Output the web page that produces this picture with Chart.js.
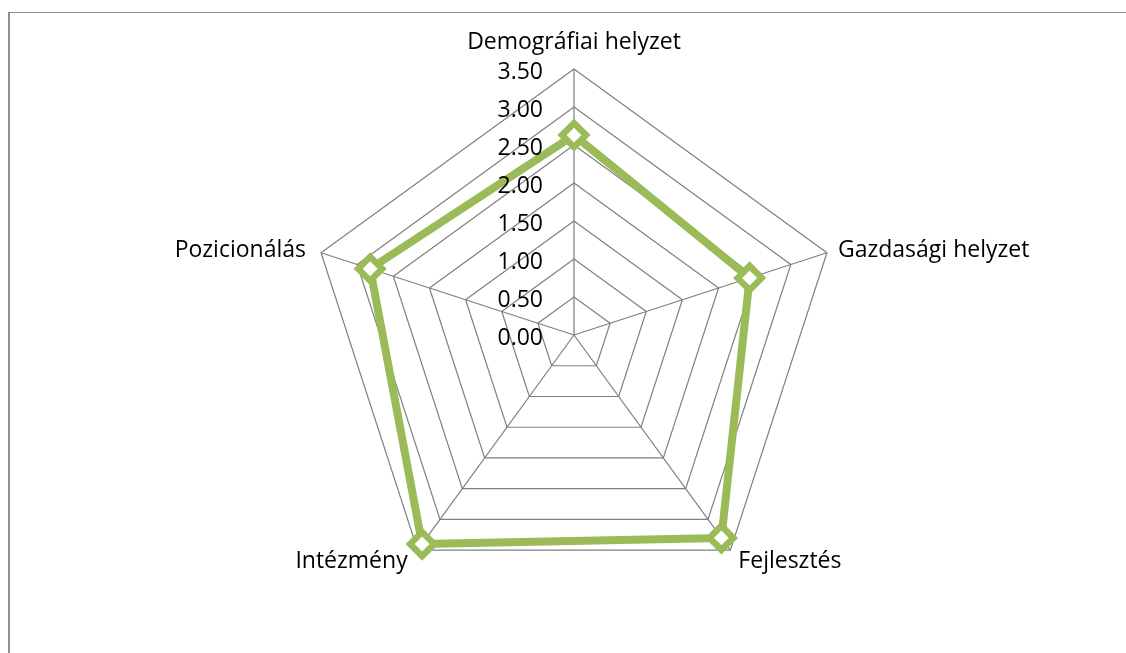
<!DOCTYPE html>
<html>
<head>
<meta charset="utf-8">
<script src="https://cdn.jsdelivr.net/npm/chart.js@4.4.1/dist/chart.umd.min.js"></script>
<style>
    html, body { margin: 0; padding: 0; background: #fff; overflow: hidden; }
    #frame {
        position: absolute; left: 8px; top: 12px; width: 1200px; height: 700px;
        border-left: 2px solid #8e8e8e; border-top: 1px solid #8e8e8e;
    }
    #wrap { position: absolute; left: 0; top: 0; width: 1126px; height: 653px; }
</style>
</head>
<body>
<div id="frame"></div>
<div id="wrap"><canvas id="radarChart"></canvas></div>
<script>
// 데이터
const categories = ['Demográfiai helyzet', 'Gazdasági helyzet', 'Fejlesztés', 'Intézmény', 'Pozicionálás'];
const scores = [2.63, 2.43, 3.30, 3.40, 2.82];
const tickValues = [0, 0.5, 1, 1.5, 2, 2.5, 3, 3.5];

const labelFont = "23px 'Open Sans', Lato, sans-serif";

// 축 눈금 / 항목 라벨 (엑셀 스타일 위치)
const radarLabels = {
    id: 'radarLabels',
    afterDatasetsDraw(chart) {
        const scale = chart.scales.r;
        const ctx = chart.ctx;
        ctx.save();
        ctx.font = labelFont;
        ctx.fillStyle = '#000';
        ctx.textBaseline = 'alphabetic';

        // 눈금 라벨
        ctx.textAlign = 'right';
        scale.ticks.forEach(t => {
            const d = scale.getDistanceFromCenterForValue(t.value);
            ctx.fillText(t.value.toFixed(2), scale.xCenter - 31, scale.yCenter - d + 10);
        });

        // 항목 라벨
        const anchors = [
            { align: 'center', dx: 0, dy: -20 },
            { align: 'left', dx: 11, dy: 4.5 },
            { align: 'left', dx: 8, dy: 18 },
            { align: 'right', dx: -10, dy: 18 },
            { align: 'right', dx: -15, dy: 4.5 }
        ];
        categories.forEach((label, i) => {
            const p = scale.getPointPosition(i, scale.drawingArea);
            const a = anchors[i];
            ctx.textAlign = a.align;
            ctx.fillText(label, p.x + a.dx, p.y + a.dy);
        });
        ctx.restore();
    }
};

new Chart(document.getElementById('radarChart'), {
    type: 'radar',
    data: {
        labels: categories,
        datasets: [{
            data: scores,
            borderColor: '#9BBB59',
            borderWidth: 8,
            borderJoinStyle: 'round',
            fill: false,
            tension: 0,
            pointStyle: 'rectRot',
            pointRadius: 12,
            pointBorderWidth: 6.5,
            pointBackgroundColor: '#ffffff',
            pointBorderColor: '#9BBB59'
        }]
    },
    options: {
        responsive: true,
        maintainAspectRatio: false,
        animation: false,
        layout: { padding: { left: 308, right: 286, top: 69, bottom: 52 } },
        plugins: {
            legend: { display: false },
            tooltip: { enabled: false }
        },
        scales: {
            r: {
                min: 0,
                max: 3.5,
                afterBuildTicks: s => { s.ticks = tickValues.map(v => ({ value: v })); },
                ticks: { display: false },
                grid: { color: '#7f7f7f', lineWidth: 1.2 },
                angleLines: { color: '#7f7f7f', lineWidth: 1.2 },
                pointLabels: { display: false }
            }
        }
    },
    plugins: [radarLabels]
});
</script>
</body>
</html>
